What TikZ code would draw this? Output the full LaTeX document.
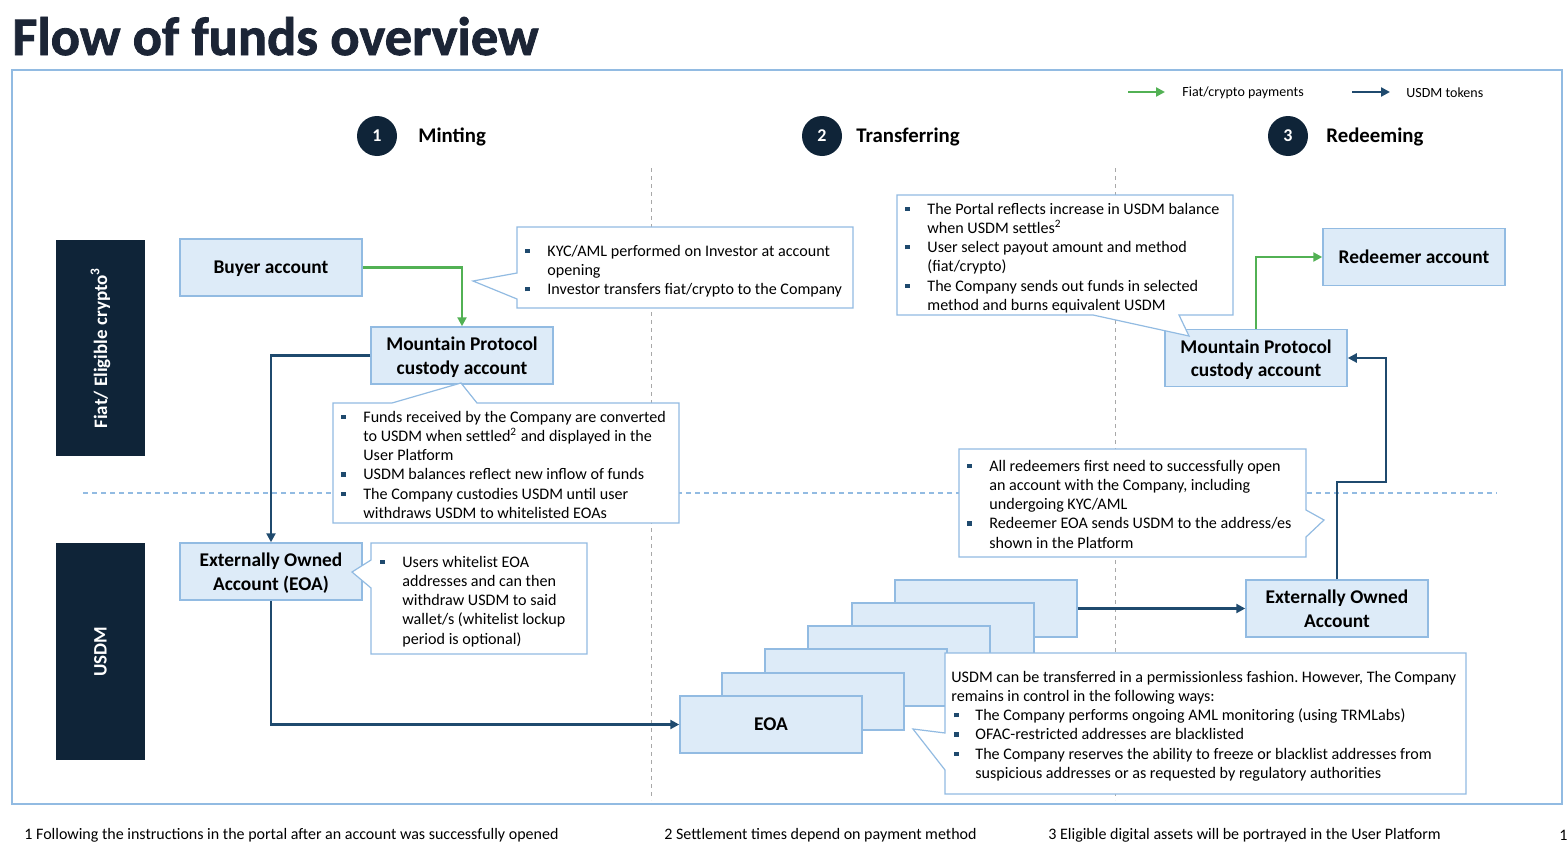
\documentclass[tikz,border=0pt]{standalone}
\usepackage{fontspec}
\setmainfont{Carlito}
\newfontfamily\heavyfont{Carlito}[BoldFeatures={FakeBold=1.5}]
\usetikzlibrary{arrows.meta}
\definecolor{navy}{HTML}{0F2438}
\definecolor{arrowblue}{HTML}{1F4A6E}
\definecolor{grn}{HTML}{52B154}
\definecolor{boxfill}{HTML}{DDEBF8}
\definecolor{boxline}{HTML}{92BBE2}
\definecolor{titlec}{HTML}{1C2536}
\definecolor{dashgray}{HTML}{A8A8A8}
\newcommand{\bsq}{\raisebox{1.7pt}{\textcolor{arrowblue}{\rule{2.1pt}{2.1pt}}}}
\newcommand{\B}{\makebox[11pt][l]{\bsq}}
\newcommand{\Bi}{\makebox[12pt][l]{\hspace*{1.5pt}\bsq}}
\begin{document}
\frenchspacing
\begin{tikzpicture}[x=0.5pt,y=-0.5pt,
  acct/.style={draw=boxline, fill=boxfill, line width=0.75pt, minimum width=91pt, minimum height=28.5pt, inner sep=0pt, align=center, text depth=0pt, font=\bfseries\fontsize{9.7}{11.7}\selectfont},
  callout/.style={draw=boxline, fill=white, line width=0.6pt, line join=miter},
  ctext/.style={anchor=north west, inner sep=0pt, font=\fontsize{8.05}{9.6}\selectfont},
  navyarr/.style={draw=arrowblue, line width=1.2pt, -{Triangle[length=4.5pt,width=4.5pt]}},
  grnarr/.style={draw=grn, line width=1.2pt, -{Triangle[length=4.5pt,width=4.5pt]}},
  side/.style={fill=navy, draw=none, minimum width=44.5pt, minimum height=108pt, inner sep=0pt},
  sidetext/.style={text=white, inner sep=0pt, font=\bfseries\fontsize{9.5}{11}\selectfont, rotate=90},
  stepc/.style={circle, fill=navy, minimum size=20pt, inner sep=0pt, text=white, font=\bfseries\fontsize{9}{10}\selectfont},
  steplbl/.style={anchor=west, inner sep=0pt, font=\bfseries\fontsize{10.4}{12}\selectfont},
  legtext/.style={anchor=west, inner sep=0pt, font=\fontsize{7}{8}\selectfont},
  foot/.style={anchor=west, inner sep=0pt, font=\fontsize{8}{9}\selectfont},
  vdash/.style={draw=dashgray, line width=0.45pt, dash pattern=on 2pt off 2pt},
  hdash/.style={draw=boxline, line width=0.6pt, dash pattern=on 2.5pt off 2pt}
]
\useasboundingbox (0,0) rectangle (1568,862);
\fill[white] (0,0) rectangle (1568,862);

% title
\node[anchor=base west, inner sep=0pt, text=titlec] (title) at (12,55) {\resizebox{263pt}{19pt}{\heavyfont\bfseries Flow of funds overview}};

% frame
\draw[boxline, line width=0.8pt] (12,70) rectangle (1562,804);

% dashed guides
\draw[vdash] (651,168) -- (651,800);
\draw[vdash] (1115,168) -- (1115,800);
\draw[hdash] (83,493) -- (1497,493);

% legend
\coordinate (lg1) at (1128,92); \coordinate (lg2) at (1165,92);
\coordinate (lg3) at (1352,92); \coordinate (lg4) at (1390,92);
\draw[grnarr] (lg1) -- (lg2);
\draw[navyarr] (lg3) -- (lg4);
\node[legtext] (lgt1) at (1182,93) {Fiat/crypto payments};
\node[legtext] (lgt2) at (1406,93) {USDM tokens};

% step headings
\node[stepc] (c1) at (377,136) {1};
\node[steplbl] (h1) at (418,137) {Minting};
\node[stepc] (c2) at (822,136) {2};
\node[steplbl] (h2) at (856,137) {Transferring};
\node[stepc] (c3) at (1288,136) {3};
\node[steplbl] (h3) at (1326,137) {Redeeming};

% side bars
\node[side] (sb1) at (100.5,348) {};
\node[sidetext] (sb1t) at (sb1.center) {Fiat/ Eligible crypto\textsuperscript{3}};
\node[side, minimum height=108.5pt] (sb2) at (100.5,651.5) {};
\node[sidetext] (sb2t) at (sb2.center) {USDM};

% account boxes
\node[acct] (buyer) at (271,267.5) {Buyer account};
\node[acct] (mpl) at (462,355.5) {Mountain Protocol\\custody account};
\node[acct] (eoal) at (271,571.5) {Externally Owned\\Account (EOA)};
\node[acct] (s6) at (986,608.5) {};
\node[acct] (s5) at (943,631.5) {};
\node[acct] (s4) at (899,654.5) {};
\node[acct] (s3) at (856,677.5) {};
\node[acct] (s2) at (813,701.5) {};
\node[acct] (eoa) at (771,724.5) {EOA};
\node[acct] (eoar) at (1337,608.5) {Externally Owned\\Account};
\node[acct] (mpr) at (1256,358) {Mountain Protocol\\custody account};
\node[acct] (red) at (1414,257) {Redeemer account};

% connectors
\draw[grnarr] (buyer.east) -| (mpl.north);
\draw[navyarr] (mpl.west) -| (eoal.north);
\draw[navyarr] (eoal.south) |- (eoa.west);
\draw[navyarr] (s6.east) -- (eoar.west);
\coordinate (k2) at (1386,482);
\draw[navyarr] (eoar.north) |- (k2) |- (mpr.east);
\draw[grnarr] (mpr.north) |- (red.west);

% callouts
\draw[callout] (517,227) -- (853,227) -- (853,308) -- (517,308) -- (517,299) -- (473,281) -- (517,273) -- cycle;
\node[ctext] (t1) at (525,242.5) {\begin{tabular}{@{}l@{}l@{}}
\B & KYC/AML performed on Investor at account\\
 & opening\\
\B & Investor transfers fiat/crypto to the Company
\end{tabular}};

\draw[callout] (333,403) -- (392,403) -- (461,383) -- (477,403) -- (679,403) -- (679,523) -- (333,523) -- cycle;
\node[ctext] (t2) at (341,408.5) {\begin{tabular}{@{}l@{}l@{}}
\B & Funds received by the Company are converted\\
 & to USDM when settled\textsuperscript{2} and displayed in the\\
 & User Platform\\
\B & USDM balances reflect new inflow of funds\\
\B & The Company custodies USDM until user\\
 & withdraws USDM to whitelisted EOAs
\end{tabular}};

\draw[callout] (371,543) -- (587,543) -- (587,654) -- (371,654) -- (371,588) -- (352,572) -- (371,560) -- cycle;
\node[ctext] (t3) at (380,553.5) {\begin{tabular}{@{}l@{}l@{}}
\B & Users whitelist EOA\\
 & addresses and can then\\
 & withdraw USDM to said\\
 & wallet/s (whitelist lockup\\
 & period is optional)
\end{tabular}};

\draw[callout] (897,195) -- (1233,195) -- (1233,315) -- (1179,315) -- (1189,336) -- (1093,315) -- (897,315) -- cycle;
\node[ctext] (t4) at (905,200.5) {\begin{tabular}{@{}l@{}l@{}}
\B & The Portal reflects increase in USDM balance\\
 & when USDM settles\textsuperscript{2}\\
\B & User select payout amount and method\\
 & (fiat/crypto)\\
\B & The Company sends out funds in selected\\
 & method and burns equivalent USDM
\end{tabular}};

\draw[callout] (959,449) -- (1306,449) -- (1306,510) -- (1324,520) -- (1306,537) -- (1306,557) -- (959,557) -- cycle;
\node[ctext] (t5) at (967,457.5) {\begin{tabular}{@{}l@{}l@{}}
\B & All redeemers first need to successfully open\\
 & an account with the Company, including\\
 & undergoing KYC/AML\\
\B & Redeemer EOA sends USDM to the address/es\\
 & shown in the Platform
\end{tabular}};

\draw[callout] (945,653) -- (1466,653) -- (1466,794) -- (945,794) -- (945,770) -- (913,729) -- (945,733) -- cycle;
\node[ctext] (t6) at (951,668.5) {\begin{tabular}{@{}l@{}l@{}}
\multicolumn{2}{@{}l@{}}{USDM can be transferred in a permissionless fashion. However, The Company}\\
\multicolumn{2}{@{}l@{}}{remains in control in the following ways:}\\
\Bi & The Company performs ongoing AML monitoring (using TRMLabs)\\
\Bi & OFAC-restricted addresses are blacklisted\\
\Bi & The Company reserves the ability to freeze or blacklist addresses from\\
 & suspicious addresses or as requested by regulatory authorities
\end{tabular}};

% footnotes
\node[foot] (f1) at (24,835) {1 Following the instructions in the portal after an account was successfully opened};
\node[foot] (f2) at (664,835) {2 Settlement times depend on payment method};
\node[foot] (f3) at (1048,835) {3 Eligible digital assets will be portrayed in the User Platform};
\node[foot] (f4) at (1559,835) {1};
\end{tikzpicture}
\end{document}
